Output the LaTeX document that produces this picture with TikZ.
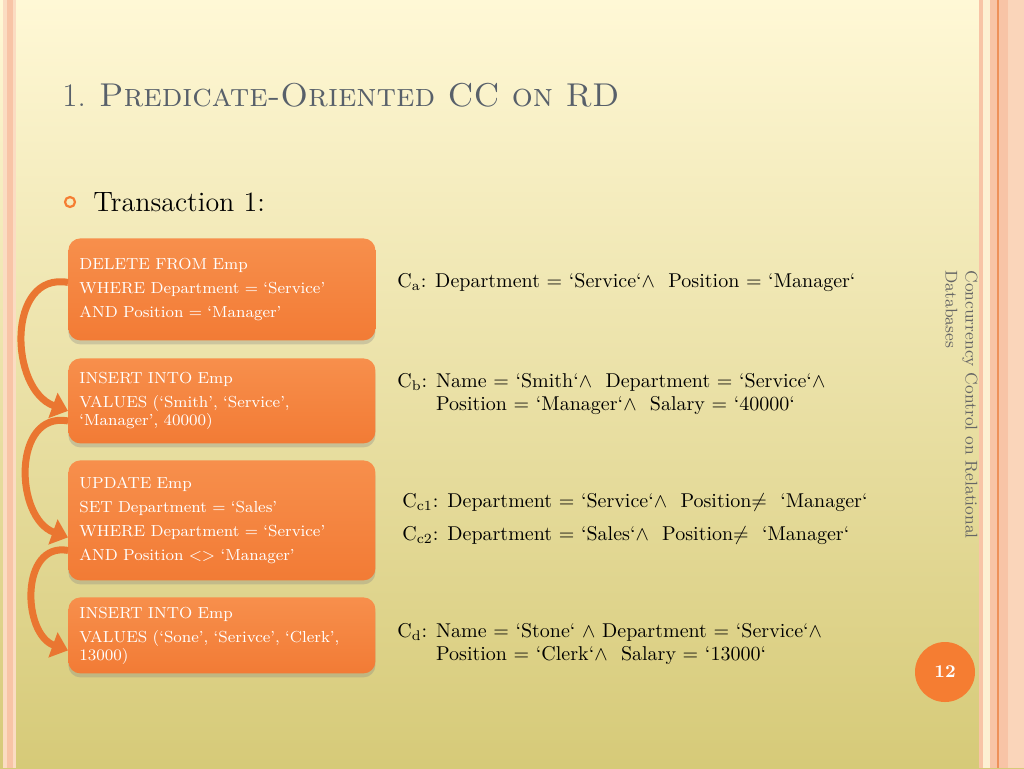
\documentclass[tikz,border=0pt]{standalone}
\usepackage{fontspec}
\usetikzlibrary{arrows.meta,shadows,positioning}

\definecolor{slidetop}{HTML}{FFF8D6}
\definecolor{slidemid}{HTML}{F8EBA8}
\definecolor{slidebot}{HTML}{D6CA78}
\definecolor{stripe}{HTML}{F8C4A6}
\definecolor{stripelight}{HTML}{FBDCC2}
\definecolor{cream}{HTML}{FDF0D2}
\definecolor{boxtop}{HTML}{F78F4C}
\definecolor{boxbot}{HTML}{F27B35}
\definecolor{arroworange}{HTML}{EA7631}
\definecolor{pageorange}{HTML}{F57D32}
\definecolor{titlegray}{HTML}{58606A}
\definecolor{sidegray}{HTML}{666666}

\tikzset{
  stmt/.style={top color=boxtop, bottom color=boxbot, rounded corners=6pt,
    text=white, align=left, anchor=north west, text width=142.5pt,
    inner xsep=5.5pt, font=\fontsize{8}{9}\selectfont,
    drop shadow={shadow xshift=0pt, shadow yshift=-2pt, opacity=0.3}},
  cond/.style={anchor=base west, align=left, inner sep=0pt,
    font=\fontsize{10}{11.5}\selectfont},
  flow/.style={draw=arroworange, line width=3.5pt,
    -{Triangle[width=13pt,length=8pt]}, out=170, in=160, looseness=1.25}
}

\begin{document}
\begin{tikzpicture}[x=0.5pt, y=-0.5pt]
  \useasboundingbox (0,0) rectangle (1024,768);
  % slide background
  \shade[top color=slidetop, middle color=slidemid, bottom color=slidebot]
    (0,0) rectangle (1024,768);
  \fill[stripelight] (3,0) rectangle (16,768);
  \fill[stripe] (7,0) rectangle (13,768);
  \fill[stripe] (979,0) rectangle (1024,768);
  \fill[cream] (983,0) rectangle (990,768);
  \fill[stripelight!70!stripe] (1008,0) rectangle (1024,768);
  \draw[arroworange!80, line width=0.6pt] (998,0) -- (998,768);

  % title and bullet
  \node[anchor=base west, inner sep=0pt, text=titlegray,
    font=\fontsize{16.5}{16.5}\selectfont] (title) at (62,106)
    {1. \textsc{Predicate-Oriented CC on RD}};
  \node[circle, draw=pageorange, line width=1.1pt, minimum size=5pt,
    inner sep=0pt] (bullet) at (70,202) {};
  \node[anchor=base west, inner sep=0pt, font=\fontsize{14}{14}\selectfont]
    (trans) at (93,211) {Transaction 1:};

  % statements
  \node[stmt, minimum height=51pt] (del) at (68,238)
    {DELETE FROM Emp\\[3pt] WHERE Department = ‘Service’\\[3pt] AND Position = ‘Manager’};
  \node[stmt, minimum height=42.5pt] (insa) at (68,358)
    {INSERT INTO Emp\\[3pt] VALUES (‘Smith’, ‘Service’,\\ ‘Manager’, 40000)};
  \node[stmt, minimum height=60pt] (upd) at (68,460)
    {UPDATE Emp\\[3pt] SET Department = ‘Sales’\\[3pt] WHERE Department = ‘Service’\\[3pt] AND Position <> ‘Manager’};
  \node[stmt, minimum height=38pt] (insb) at (68,597)
    {INSERT INTO Emp\\[3pt] VALUES (‘Sone’, ‘Serivce’, ‘Clerk’,\\ 13000)};

  % order of execution
  \draw[flow] ([yshift=3.5pt]del.west) to ([yshift=-5pt]insa.west);
  \draw[flow] ([yshift=-10pt]insa.west) to ([yshift=-8.5pt]upd.west);
  \draw[flow] ([yshift=-15pt]upd.west) to ([yshift=-7.5pt]insb.west);

  % predicates
  \node[cond] (ca) at (397,287)
    {C\textsubscript{a}: Department = ‘Service‘$\wedge$\ \ Position = ‘Manager‘};
  \node[cond] (cb) at (397,410)
    {C\textsubscript{b}: Name = ‘Smith‘$\wedge$\ \ Department = ‘Service‘$\wedge$\\
     \phantom{C\textsubscript{b}: }Position = ‘Manager‘$\wedge$\ \ Salary = ‘40000‘};
  \node[cond] (cca) at (402,507)
    {C\textsubscript{c1}: Department = ‘Service‘$\wedge$\ \ Position$\neq$\ \ ‘Manager‘};
  \node[cond] (ccb) at (402,540)
    {C\textsubscript{c2}: Department = ‘Sales‘$\wedge$\ \ Position$\neq$\ \ ‘Manager‘};
  \node[cond] (cd) at (397,660)
    {C\textsubscript{d}: Name = ‘Stone‘ $\wedge$ Department = ‘Service‘$\wedge$\\
     \phantom{C\textsubscript{d}: }Position = ‘Clerk‘$\wedge$\ \ Salary = ‘13000‘};

  % side title and page number
  \node[rotate=-90, anchor=north west, align=left, inner sep=0pt, text=sidegray,
    font=\fontsize{8.5}{10}\selectfont] (side) at (978,270)
    {Concurrency Control on Relational\\Databases};
  \node[circle, fill=pageorange, minimum size=30pt, inner sep=0pt, text=white,
    font=\bfseries\fontsize{9}{9}\selectfont] (page) at (945,672) {12};
\end{tikzpicture}
\end{document}
